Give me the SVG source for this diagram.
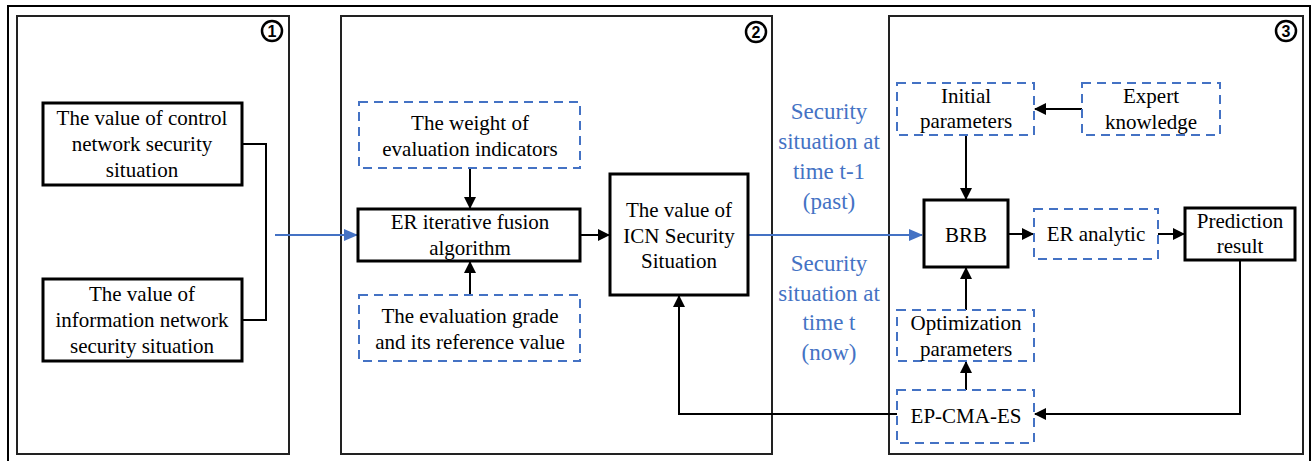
<svg xmlns="http://www.w3.org/2000/svg" width="1314" height="461" viewBox="0 0 1314 461">
<style>
.panel{fill:none;stroke:#222;stroke-width:2}
.solid{fill:#fff;stroke:#000;stroke-width:3}
.dash{fill:#fff;stroke:#4472C4;stroke-width:2;stroke-dasharray:9 6}
.t{font-family:"Liberation Serif","Times New Roman",serif;font-size:21px;fill:#000;text-anchor:middle}
.bt{font-family:"Liberation Serif","Times New Roman",serif;font-size:23px;fill:#4472C4;text-anchor:middle}
.numc{fill:#fff;stroke:#000;stroke-width:2.5}
.num{font-family:"Liberation Sans",Arial,sans-serif;font-size:16px;font-weight:bold;fill:#000;text-anchor:middle}
.c{fill:none;stroke:#000;stroke-width:2}
.cb{fill:none;stroke:#4472C4;stroke-width:2}
</style>
<defs>
<marker id="ab" markerWidth="12" markerHeight="12" refX="11" refY="6" orient="auto" markerUnits="userSpaceOnUse"><path d="M0,0 L12,6 L0,12 z" fill="#000"/></marker>
<marker id="abb" markerWidth="14" markerHeight="12" refX="13" refY="6" orient="auto" markerUnits="userSpaceOnUse"><path d="M0,0 L14,6 L0,12 z" fill="#4472C4"/></marker>
</defs>
<rect width="1314" height="461" fill="#fff"/>
<g id="frame">
<path d="M8,470 L8,6 L1310,6 L1310,470" fill="none" stroke="#000" stroke-width="2"/>
<rect class="panel" x="17" y="16" width="272" height="438"/>
<rect class="panel" x="341" y="16" width="431" height="438"/>
<rect class="panel" x="889" y="16" width="414" height="438"/>
<circle class="numc" cx="272" cy="31" r="10"/>
<text class="num" x="272" y="37">1</text>
<circle class="numc" cx="756" cy="32" r="10"/>
<text class="num" x="756" y="38">2</text>
<circle class="numc" cx="1286" cy="31" r="10"/>
<text class="num" x="1286" y="37">3</text>
</g>
<g id="connectors">
<path class="c" d="M242,144 L266,144 L266,320 L242,320"/>
<path class="cb" d="M275,235 L357,235" marker-end="url(#abb)"/>
<path class="c" d="M470,168 L470,208" marker-end="url(#ab)"/>
<path class="c" d="M470,295 L470,262" marker-end="url(#ab)"/>
<path class="c" d="M580,235 L609,235" marker-end="url(#ab)"/>
<path class="cb" d="M748,235 L922,235" marker-end="url(#abb)"/>
<path class="c" d="M1082,109 L1035,109" marker-end="url(#ab)"/>
<path class="c" d="M966,135 L966,199" marker-end="url(#ab)"/>
<path class="c" d="M966,310 L966,268" marker-end="url(#ab)"/>
<path class="c" d="M966,390 L966,362" marker-end="url(#ab)"/>
<path class="c" d="M1008,234 L1033,234" marker-end="url(#ab)"/>
<path class="c" d="M1158,234 L1184,234" marker-end="url(#ab)"/>
<path class="c" d="M1240,260 L1240,414 L1035,414" marker-end="url(#ab)"/>
<path class="c" d="M897,414 L679,414 L679,296" marker-end="url(#ab)"/>
</g>
<g id="n_control">
<rect class="solid" x="43" y="103" width="199" height="82"/>
<text class="t" x="142" y="125">The value of control</text>
<text class="t" x="142" y="151">network security</text>
<text class="t" x="142" y="177">situation</text>
</g>
<g id="n_info">
<rect class="solid" x="43" y="279" width="199" height="82"/>
<text class="t" x="142" y="301">The value of</text>
<text class="t" x="142" y="327">information network</text>
<text class="t" x="142" y="353">security situation</text>
</g>
<g id="n_weight">
<rect class="dash" x="359" y="102" width="221" height="66"/>
<text class="t" x="470" y="130">The weight of</text>
<text class="t" x="470" y="156">evaluation indicators</text>
</g>
<g id="n_er">
<rect class="solid" x="358" y="209" width="222" height="52"/>
<text class="t" x="470" y="229">ER iterative fusion</text>
<text class="t" x="470" y="255">algorithm</text>
</g>
<g id="n_grade">
<rect class="dash" x="359" y="295" width="221" height="66"/>
<text class="t" x="470" y="323">The evaluation grade</text>
<text class="t" x="470" y="349">and its reference value</text>
</g>
<g id="n_icn">
<rect class="solid" x="610" y="174" width="138" height="121"/>
<text class="t" x="679" y="217">The value of</text>
<text class="t" x="679" y="243">ICN Security</text>
<text class="t" x="679" y="268">Situation</text>
</g>
<g id="label_past">
<text class="bt" x="829" y="119">Security</text>
<text class="bt" x="829" y="149">situation at</text>
<text class="bt" x="829" y="179">time t-1</text>
<text class="bt" x="829" y="209">(past)</text>
</g>
<g id="label_now">
<text class="bt" x="829" y="271">Security</text>
<text class="bt" x="829" y="301">situation at</text>
<text class="bt" x="829" y="330">time t</text>
<text class="bt" x="829" y="360">(now)</text>
</g>
<g id="n_initial">
<rect class="dash" x="897" y="83" width="137" height="52"/>
<text class="t" x="966" y="103">Initial</text>
<text class="t" x="966" y="128">parameters</text>
</g>
<g id="n_expert">
<rect class="dash" x="1082" y="83" width="138" height="52"/>
<text class="t" x="1151" y="103">Expert</text>
<text class="t" x="1151" y="129">knowledge</text>
</g>
<g id="n_brb">
<rect class="solid" x="924" y="200" width="84" height="67"/>
<text class="t" x="966" y="242">BRB</text>
</g>
<g id="n_eranalytic">
<rect class="dash" x="1034" y="209" width="124" height="50"/>
<text class="t" x="1096" y="241">ER analytic</text>
</g>
<g id="n_prediction">
<rect class="solid" x="1185" y="208" width="110" height="52"/>
<text class="t" x="1240" y="228">Prediction</text>
<text class="t" x="1240" y="253">result</text>
</g>
<g id="n_optim">
<rect class="dash" x="897" y="310" width="137" height="51"/>
<text class="t" x="966" y="330">Optimization</text>
<text class="t" x="966" y="356">parameters</text>
</g>
<g id="n_epcma">
<rect class="dash" x="897" y="390" width="137" height="53"/>
<text class="t" x="966" y="423">EP-CMA-ES</text>
</g>
</svg>
